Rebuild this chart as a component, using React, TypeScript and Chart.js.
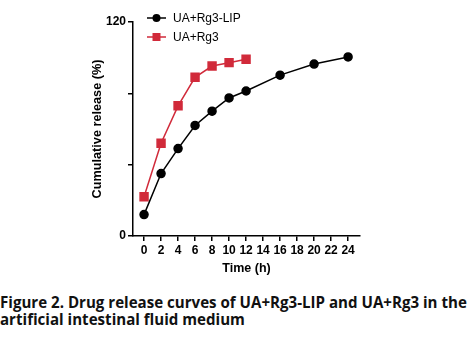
import React, { useEffect, useRef } from "react";
import { Chart, registerables } from "chart.js";

Chart.register(...registerables);

const timesLip = [0, 2, 4, 6, 8, 10, 12, 16, 20, 24];
const valuesLip = [12, 35, 49, 62, 70, 77.4, 81.3, 90.2, 96.4, 100.4];
const timesFree = [0, 2, 4, 6, 8, 10, 12];
const valuesFree = [22, 52, 73, 89, 95.3, 97.2, 99.1];
const xTicks = [0, 2, 4, 6, 8, 10, 12, 14, 16, 18, 20, 22, 24];
const yTicks = [0, 40, 80, 120];
const yLabeled = [0, 120];
const seriesNames = ["UA+Rg3-LIP", "UA+Rg3"];
const RED = "#d12a3a";
const BLACK = "#000000";

const legendPlugin = {
  id: "insideLegend",
  afterDraw(chart: any) {
    const ctx = chart.ctx;
    const items = [
      { name: seriesNames[0], color: BLACK, style: "circle", y: 18 },
      { name: seriesNames[1], color: RED, style: "rect", y: 37 },
    ];
    ctx.save();
    items.forEach((it) => {
      ctx.strokeStyle = it.color;
      ctx.fillStyle = it.color;
      ctx.lineWidth = 1.5;
      ctx.beginPath();
      ctx.moveTo(147, it.y);
      ctx.lineTo(166, it.y);
      ctx.stroke();
      if (it.style === "circle") {
        ctx.beginPath();
        ctx.arc(156.5, it.y, 4, 0, Math.PI * 2);
        ctx.fill();
      } else {
        ctx.fillRect(152.5, it.y - 4, 8, 8);
      }
      ctx.fillStyle = "#000";
      ctx.font = "12px 'Liberation Sans', Arial, sans-serif";
      ctx.textBaseline = "middle";
      ctx.textAlign = "left";
      ctx.fillText(it.name, 173, it.y + 0.5);
    });
    ctx.restore();
  },
};

export default function App() {
  const ref = useRef<HTMLCanvasElement | null>(null);
  useEffect(() => {
    if (!ref.current) return;
    const chart = new Chart(ref.current, {
      type: "line",
      data: {
        datasets: [
          {
            label: seriesNames[0],
            data: timesLip.map((t, i) => ({ x: t, y: valuesLip[i] })),
            borderColor: BLACK,
            backgroundColor: BLACK,
            borderWidth: 1.5,
            pointStyle: "circle",
            pointRadius: 4,
            tension: 0,
          },
          {
            label: seriesNames[1],
            data: timesFree.map((t, i) => ({ x: t, y: valuesFree[i] })),
            borderColor: RED,
            backgroundColor: RED,
            borderWidth: 1.5,
            pointStyle: "rect",
            pointRadius: 5.6,
            tension: 0,
          },
        ],
      },
      options: {
        animation: false,
        responsive: false,
        maintainAspectRatio: false,
        layout: { padding: { left: 85, right: 112, top: 22, bottom: 0 } },
        plugins: { legend: { display: false }, tooltip: { enabled: false } },
        scales: {
          x: {
            type: "linear",
            min: -1.3,
            max: 25.4,
            afterBuildTicks: (s: any) => {
              s.ticks = xTicks.map((v) => ({ value: v }));
            },
            afterFit: (s: any) => {
              s.height = 44;
            },
            ticks: {
              color: "#000",
              font: { family: "'Liberation Sans', Arial, sans-serif", size: 12, weight: "bold" },
              padding: 2,
              maxRotation: 0,
              autoSkip: false,
            },
            grid: { display: true, drawOnChartArea: false, drawTicks: true, tickLength: 5, color: "#000", lineWidth: 1.5 },
            border: { display: true, color: "#000", width: 1.5 },
            title: {
              display: true,
              text: "Time (h)",
              color: "#000",
              font: { family: "'Liberation Sans', Arial, sans-serif", size: 12.5, weight: "bold" },
              padding: { top: 2, bottom: 4 },
            },
          },
          y: {
            type: "linear",
            min: 0,
            max: 120,
            afterBuildTicks: (s: any) => {
              s.ticks = yTicks.map((v) => ({ value: v }));
            },
            afterFit: (s: any) => {
              s.width = 48;
            },
            ticks: {
              color: "#000",
              font: { family: "'Liberation Sans', Arial, sans-serif", size: 12, weight: "bold" },
              padding: 2,
              callback: (v: any) => (yLabeled.includes(Number(v)) ? String(v) : ""),
            },
            grid: { display: true, drawOnChartArea: false, drawTicks: true, tickLength: 5, color: "#000", lineWidth: 1.5 },
            border: { display: true, color: "#000", width: 1.5 },
            title: {
              display: true,
              text: "Cumulative release (%)",
              color: "#000",
              font: { family: "'Liberation Sans', Arial, sans-serif", size: 12.7, weight: "bold" },
              padding: { top: 5, bottom: 2 },
            },
          },
        },
      },
      plugins: [legendPlugin],
    } as any);
    return () => chart.destroy();
  }, []);

  return (
    <div style={{ position: "absolute", left: 0, top: 0, width: 472, height: 353, background: "#fff" }}>
      <canvas ref={ref} width={472} height={280} style={{ position: "absolute", left: 0, top: 0, width: 472, height: 280 }} />
      <div
        style={{
          position: "absolute",
          left: 0,
          top: 294,
          width: 472,
          fontFamily: "'Open Sans', 'Noto Sans', sans-serif",
          fontWeight: 700,
          fontSize: 15.1,
          lineHeight: "17px",
          color: "#111",
          whiteSpace: "nowrap",
        }}
      >
        Figure 2. Drug release curves of UA+Rg3-LIP and UA+Rg3 in the
        <br />
        artificial intestinal fluid medium
      </div>
    </div>
  );
}
